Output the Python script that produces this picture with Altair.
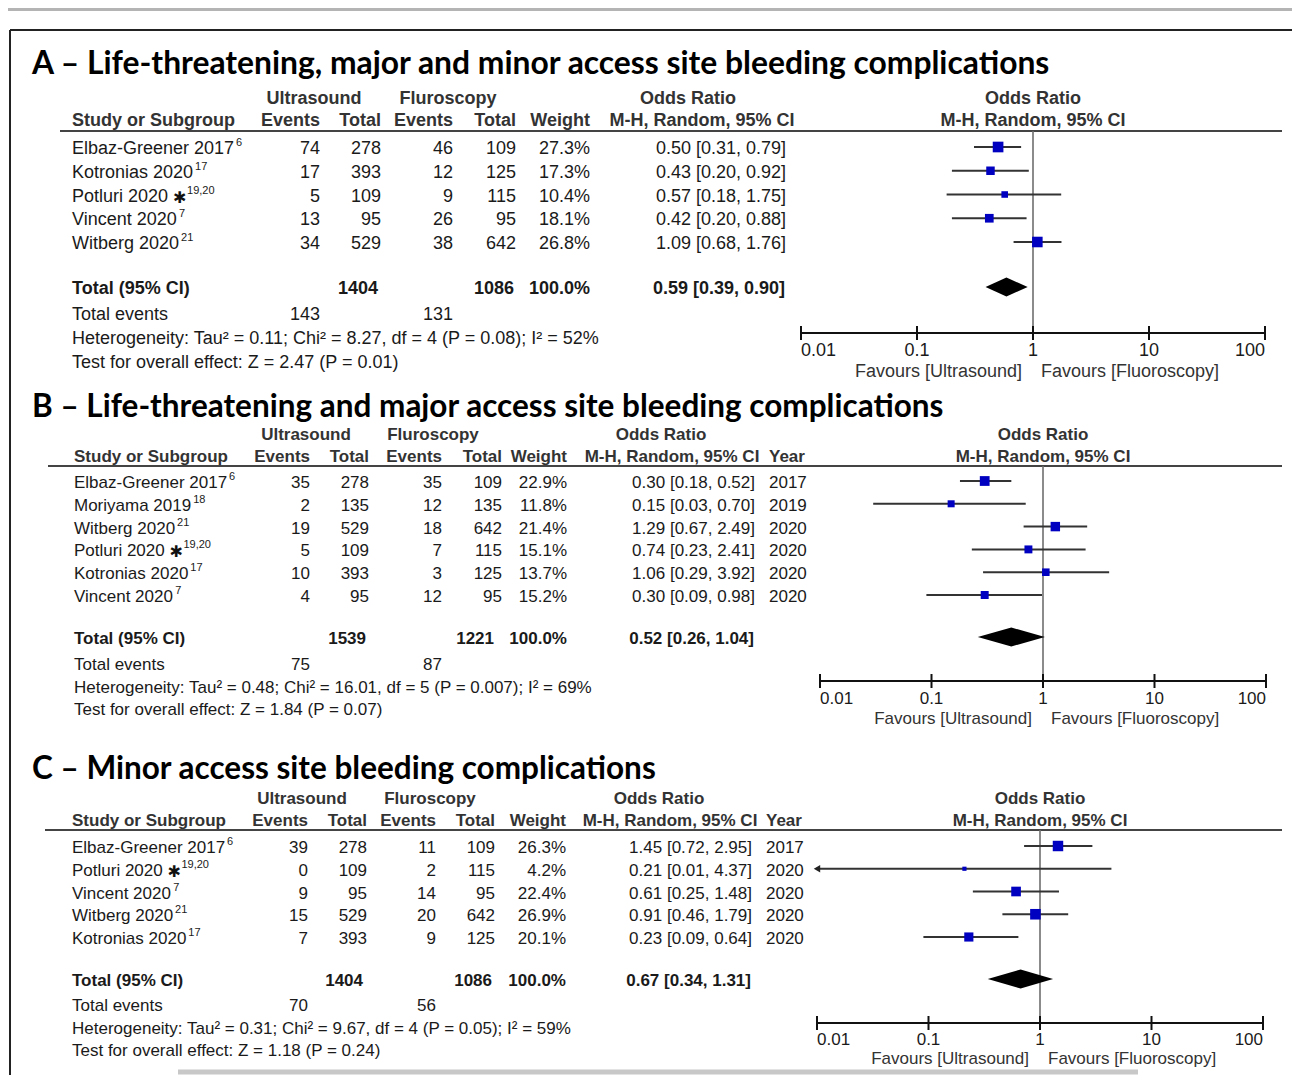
import altair as alt
import pandas as pd

# ---------------- Panel A data ----------------
A_title = "A – Life-threatening, major and minor access site bleeding complications"
A_study = ["Elbaz-Greener 2017", "Kotronias 2020", "Potluri 2020", "Vincent 2020", "Witberg 2020"]
A_ref = ["6", "17", "19,20", "7", "21"]
A_star = [0, 0, 1, 0, 0]
A_us_ev = [74, 17, 5, 13, 34]
A_us_tot = [278, 393, 109, 95, 529]
A_fl_ev = [46, 12, 9, 26, 38]
A_fl_tot = [109, 125, 115, 95, 642]
A_weight = [27.3, 17.3, 10.4, 18.1, 26.8]
A_or = [0.50, 0.43, 0.57, 0.42, 1.09]
A_lo = [0.31, 0.20, 0.18, 0.20, 0.68]
A_hi = [0.79, 0.92, 1.75, 0.88, 1.76]
A_year = []
A_totals = [1404, 1086]
A_pooled = [0.59, 0.39, 0.90]
A_events = [143, 131]
A_het = "Heterogeneity: Tau² = 0.11; Chi² = 8.27, df = 4 (P = 0.08); I² = 52%"
A_test = "Test for overall effect: Z = 2.47 (P = 0.01)"

# ---------------- Panel B data ----------------
B_title = "B – Life-threatening and major access site bleeding complications"
B_study = ["Elbaz-Greener 2017", "Moriyama 2019", "Witberg 2020", "Potluri 2020", "Kotronias 2020", "Vincent 2020"]
B_ref = ["6", "18", "21", "19,20", "17", "7"]
B_star = [0, 0, 0, 1, 0, 0]
B_us_ev = [35, 2, 19, 5, 10, 4]
B_us_tot = [278, 135, 529, 109, 393, 95]
B_fl_ev = [35, 12, 18, 7, 3, 12]
B_fl_tot = [109, 135, 642, 115, 125, 95]
B_weight = [22.9, 11.8, 21.4, 15.1, 13.7, 15.2]
B_or = [0.30, 0.15, 1.29, 0.74, 1.06, 0.30]
B_lo = [0.18, 0.03, 0.67, 0.23, 0.29, 0.09]
B_hi = [0.52, 0.70, 2.49, 2.41, 3.92, 0.98]
B_year = [2017, 2019, 2020, 2020, 2020, 2020]
B_totals = [1539, 1221]
B_pooled = [0.52, 0.26, 1.04]
B_events = [75, 87]
B_het = "Heterogeneity: Tau² = 0.48; Chi² = 16.01, df = 5 (P = 0.007); I² = 69%"
B_test = "Test for overall effect: Z = 1.84 (P = 0.07)"

# ---------------- Panel C data ----------------
C_title = "C – Minor access site bleeding complications"
C_study = ["Elbaz-Greener 2017", "Potluri 2020", "Vincent 2020", "Witberg 2020", "Kotronias 2020"]
C_ref = ["6", "19,20", "7", "21", "17"]
C_star = [0, 1, 0, 0, 0]
C_us_ev = [39, 0, 9, 15, 7]
C_us_tot = [278, 109, 95, 529, 393]
C_fl_ev = [11, 2, 14, 20, 9]
C_fl_tot = [109, 115, 95, 642, 125]
C_weight = [26.3, 4.2, 22.4, 26.9, 20.1]
C_or = [1.45, 0.21, 0.61, 0.91, 0.23]
C_lo = [0.72, 0.01, 0.25, 0.46, 0.09]
C_hi = [2.95, 4.37, 1.48, 1.79, 0.64]
C_year = [2017, 2020, 2020, 2020, 2020]
C_totals = [1404, 1086]
C_pooled = [0.67, 0.34, 1.31]
C_events = [70, 56]
C_het = "Heterogeneity: Tau² = 0.31; Chi² = 9.67, df = 4 (P = 0.05); I² = 59%"
C_test = "Test for overall effect: Z = 1.18 (P = 0.24)"

TICKS = [0.01, 0.1, 1, 10, 100]
TICK_LABELS = ["0.01", "0.1", "1", "10", "100"]

PANELS = {
    "A": dict(title=A_title, study=A_study, ref=A_ref, star=A_star, us_ev=A_us_ev, us_tot=A_us_tot,
              fl_ev=A_fl_ev, fl_tot=A_fl_tot, weight=A_weight, est=A_or, lo=A_lo, hi=A_hi, year=A_year,
              totals=A_totals, pooled=A_pooled, events=A_events, het=A_het, test=A_test),
    "B": dict(title=B_title, study=B_study, ref=B_ref, star=B_star, us_ev=B_us_ev, us_tot=B_us_tot,
              fl_ev=B_fl_ev, fl_tot=B_fl_tot, weight=B_weight, est=B_or, lo=B_lo, hi=B_hi, year=B_year,
              totals=B_totals, pooled=B_pooled, events=B_events, het=B_het, test=B_test),
    "C": dict(title=C_title, study=C_study, ref=C_ref, star=C_star, us_ev=C_us_ev, us_tot=C_us_tot,
              fl_ev=C_fl_ev, fl_tot=C_fl_tot, weight=C_weight, est=C_or, lo=C_lo, hi=C_hi, year=C_year,
              totals=C_totals, pooled=C_pooled, events=C_events, het=C_het, test=C_test),
}

# ---------------- layout (reference pixel positions) ----------------
LAYOUT = {
    "A": dict(fs=18, tfs=31.8, title_y=62, h1_y=97, h2_y=119, rule_y=131, rule_x0=60, row0=147, step=23.75,
              tot_y=287, ev_y=313, het_y=337, test_y=361,
              study=72, us_ev=320, us_tot=381, fl_ev=453, fl_tot=516, wt=590, orr=786, year=None,
              tot_us=378, tot_fl=514,
              us_c=314, fl_c=448, or_c=688, mh_c=702,
              fx0=801, fx1=1265, axis_y=333, lab_y=349, fav_y=370),
    "B": dict(fs=17, tfs=31.5, title_y=406, h1_y=433, h2_y=455, rule_y=466, rule_x0=48, row0=481, step=22.8,
              tot_y=637, ev_y=663, het_y=686, test_y=708,
              study=74, us_ev=310, us_tot=369, fl_ev=442, fl_tot=502, wt=567, orr=755, year=769,
              tot_us=366, tot_fl=494,
              us_c=306, fl_c=433, or_c=661, mh_c=672,
              fx0=820, fx1=1266, axis_y=681, lab_y=697, fav_y=717),
    "C": dict(fs=17, tfs=31.5, title_y=768, h1_y=797, h2_y=819, rule_y=830, rule_x0=45, row0=846, step=22.75,
              tot_y=979, ev_y=1004, het_y=1027, test_y=1049,
              study=72, us_ev=308, us_tot=367, fl_ev=436, fl_tot=495, wt=566, orr=752, year=766,
              tot_us=363, tot_fl=492,
              us_c=302, fl_c=430, or_c=659, mh_c=670,
              fx0=817, fx1=1263, axis_y=1023, lab_y=1038, fav_y=1057),
}

BODY = "Liberation Sans"
TITLEF = "Lato"
INK = "#1a1a1a"
HEAD = "#333333"
TDY = 2  # optical vertical centring of text

ARIAL = {' ': 278, '-': 333, ',': 278}
for ch in "0123456789":
    ARIAL[ch] = 556
ARIAL.update(dict(E=667, G=778, K=667, M=833, P=667, V=667, W=944))
ARIAL.update(dict(a=556, b=556, c=500, e=556, g=556, i=222, l=222, m=833, n=556, o=556,
                  r=333, s=500, t=278, u=556, y=500, z=500))


def tw(s, size):
    return sum(ARIAL.get(c, 556) for c in s) * size / 1000.0


CW, CH = 1284, 1067
XPIX = alt.Scale(domain=[8, 8 + CW], range=[0, CW])
YPIX = alt.Scale(domain=[8, 8 + CH], range=[0, CH])

texts = []


def T(x, y, s, size, align="left", weight="normal", font=BODY, color=INK):
    texts.append(dict(x=x, y=y, text=s, align=align, weight=weight, size=size, font=font, color=color))


layers = []


def prule(rows, color, width):
    df = pd.DataFrame(rows)
    enc = dict(x=alt.X("x:Q", scale=XPIX, axis=None), y=alt.Y("y:Q", scale=YPIX, axis=None))
    if "x2" in df:
        enc["x2"] = "x2:Q"
    if "y2" in df:
        enc["y2"] = "y2:Q"
    layers.append(alt.Chart(df).mark_rule(color=color, strokeWidth=width).encode(**enc))


# frame lines
prule([dict(x=8, x2=8 + CW, y=9)], "#b4b4b4", 4)
prule([dict(x=10, x2=8 + CW, y=30)], "#222222", 2)
prule([dict(x=10, y=30, y2=8 + CH)], "#222222", 2)
prule([dict(x=178, x2=1138, y=1072)], "#c8c8c8", 5)

fmt2 = lambda v: f"{v:.2f}"

for key in ["A", "B", "C"]:
    P = PANELS[key]
    L = LAYOUT[key]
    fs = L["fs"]
    n = len(P["study"])
    ys = [L["row0"] + i * L["step"] for i in range(n)]

    T(32, L["title_y"], P["title"], L["tfs"], weight="bold", font=TITLEF, color="#000000")
    # header
    T(L["us_c"], L["h1_y"], "Ultrasound", fs, align="center", weight="bold", color=HEAD)
    T(L["fl_c"], L["h1_y"], "Fluroscopy", fs, align="center", weight="bold", color=HEAD)
    T(L["or_c"], L["h1_y"], "Odds Ratio", fs, align="center", weight="bold", color=HEAD)
    T(L["study"], L["h2_y"], "Study or Subgroup", fs, weight="bold", color=HEAD)
    for col, lab in [("us_ev", "Events"), ("us_tot", "Total"), ("fl_ev", "Events"),
                     ("fl_tot", "Total"), ("wt", "Weight")]:
        T(L[col], L["h2_y"], lab, fs, align="right", weight="bold", color=HEAD)
    T(L["mh_c"], L["h2_y"], "M-H, Random, 95% CI", fs, align="center", weight="bold", color=HEAD)
    if L["year"] is not None:
        T(L["year"], L["h2_y"], "Year", fs, weight="bold", color=HEAD)
    prule([dict(x=L["rule_x0"], x2=1282, y=L["rule_y"])], "#444444", 2)

    # study rows
    for i in range(n):
        y = ys[i]
        name = P["study"][i]
        T(L["study"], y, name, fs)
        xe = L["study"] + tw(name, fs)
        if P["star"][i]:
            xs = L["study"] + tw(name + " ", fs)
            T(xs, y + 1, "✱", 16, weight="bold", font="DejaVu Sans", color="#111111")
            T(xs + 14, y - 6, P["ref"][i], 11)
        else:
            T(xe + 2, y - 6, P["ref"][i], 11)
        T(L["us_ev"], y, str(P["us_ev"][i]), fs, align="right")
        T(L["us_tot"], y, str(P["us_tot"][i]), fs, align="right")
        T(L["fl_ev"], y, str(P["fl_ev"][i]), fs, align="right")
        T(L["fl_tot"], y, str(P["fl_tot"][i]), fs, align="right")
        T(L["wt"], y, f"{P['weight'][i]:.1f}%", fs, align="right")
        T(L["orr"], y, f"{fmt2(P['est'][i])} [{fmt2(P['lo'][i])}, {fmt2(P['hi'][i])}]", fs, align="right")
        if L["year"] is not None:
            T(L["year"], y, str(P["year"][i]), fs)

    # totals
    T(L["study"], L["tot_y"], "Total (95% CI)", fs, weight="bold")
    T(L["tot_us"], L["tot_y"], str(P["totals"][0]), fs, align="right", weight="bold")
    T(L["tot_fl"], L["tot_y"], str(P["totals"][1]), fs, align="right", weight="bold")
    T(L["wt"], L["tot_y"], "100.0%", fs, align="right", weight="bold")
    pe = P["pooled"]
    T(L["orr"] - 1, L["tot_y"], f"{fmt2(pe[0])} [{fmt2(pe[1])}, {fmt2(pe[2])}]", fs, align="right", weight="bold")
    T(L["study"], L["ev_y"], "Total events", fs)
    T(L["us_ev"], L["ev_y"], str(P["events"][0]), fs, align="right")
    T(L["fl_ev"], L["ev_y"], str(P["events"][1]), fs, align="right")
    T(L["study"], L["het_y"], P["het"], fs)
    T(L["study"], L["test_y"], P["test"], fs)

    # ---------- forest plot ----------
    fx = alt.Scale(type="log", domain=[0.01, 100], range=[L["fx0"] - 8, L["fx1"] - 8], nice=False)

    def XF(f):
        return alt.X(f, type="quantitative", scale=fx, axis=None)

    def YF(f):
        return alt.Y(f, type="quantitative", scale=YPIX, axis=None)

    st = pd.DataFrame(dict(est=P["est"], lo=P["lo"], hi=P["hi"], y=ys, w=P["weight"]))
    # right headers
    hd = pd.DataFrame(dict(x=[1, 1], y=[L["h1_y"], L["h2_y"]], text=["Odds Ratio", "M-H, Random, 95% CI"]))
    layers.append(alt.Chart(hd).mark_text(align="center", baseline="middle", font=BODY, fontSize=fs,
                                          fontWeight="bold", color=HEAD, dy=TDY)
                  .encode(x=XF("x"), y=YF("y"), text="text:N"))
    # line of no effect
    vl = pd.DataFrame(dict(x=[1], y=[L["rule_y"]], y2=[L["axis_y"]]))
    layers.append(alt.Chart(vl).mark_rule(color="#6e6e6e", strokeWidth=1.6)
                  .encode(x=XF("x"), y=YF("y"), y2="y2:Q"))
    # CI lines
    layers.append(alt.Chart(st).mark_rule(color="#333333", strokeWidth=2)
                  .encode(x=XF("lo"), x2="hi:Q", y=YF("y")))
    # arrows where CI reaches the axis limit
    arr = st[st["lo"] <= 0.01]
    if len(arr):
        layers.append(alt.Chart(arr).mark_point(shape="triangle-left", filled=True, size=55,
                                                color="#222222", opacity=1)
                      .encode(x=XF("lo"), y=YF("y")))
    # squares
    layers.append(alt.Chart(st).mark_square(color="#0000c0", opacity=1)
                  .encode(x=XF("est"), y=YF("y"),
                          size=alt.Size("w:Q", scale=alt.Scale(domain=[0, 30], range=[0, 125]), legend=None)))
    # diamond
    c = L["tot_y"]
    dm = pd.DataFrame(dict(x=[pe[1], pe[0], pe[2]], y=[c, c - 9.5, c], y2=[c, c + 9.5, c]))
    layers.append(alt.Chart(dm).mark_area(color="#000000", opacity=1)
                  .encode(x=XF("x"), y=YF("y"), y2="y2:Q"))
    # axis
    ax = pd.DataFrame(dict(x=[TICKS[0]], x2=[TICKS[-1]], y=[L["axis_y"]]))
    layers.append(alt.Chart(ax).mark_rule(color="#111111", strokeWidth=2)
                  .encode(x=XF("x"), x2="x2:Q", y=YF("y")))
    tk = pd.DataFrame(dict(x=TICKS, y=[L["axis_y"] - 7] * 5, y2=[L["axis_y"] + 7] * 5))
    layers.append(alt.Chart(tk).mark_rule(color="#111111", strokeWidth=2)
                  .encode(x=XF("x"), y=YF("y"), y2="y2:Q"))
    lab = pd.DataFrame(dict(x=TICKS, y=[L["lab_y"]] * 5, text=TICK_LABELS,
                            pos=["left", "center", "center", "center", "right"]))
    for al in ["left", "center", "right"]:
        sub = lab[lab["pos"] == al]
        layers.append(alt.Chart(sub).mark_text(align=al, baseline="middle", font=BODY, fontSize=fs,
                                               color=INK, dy=TDY)
                      .encode(x=XF("x"), y=YF("y"), text="text:N"))
    fav = pd.DataFrame(dict(x=[1, 1], y=[L["fav_y"]] * 2,
                            text=["Favours [Ultrasound]", "Favours [Fluoroscopy]"]))
    layers.append(alt.Chart(fav.iloc[[0]]).mark_text(align="right", baseline="middle", font=BODY,
                                                     fontSize=fs, color="#333333", dx=-11, dy=TDY)
                  .encode(x=XF("x"), y=YF("y"), text="text:N"))
    layers.append(alt.Chart(fav.iloc[[1]]).mark_text(align="left", baseline="middle", font=BODY,
                                                     fontSize=fs, color="#333333", dx=8, dy=TDY)
                  .encode(x=XF("x"), y=YF("y"), text="text:N"))

# text layers grouped by alignment / weight / font
tdf = pd.DataFrame(texts)
for (al, wt, fnt), sub in tdf.groupby(["align", "weight", "font"]):
    layers.append(alt.Chart(sub.reset_index(drop=True)).mark_text(align=al, baseline="middle", font=fnt,
                                                                  fontWeight=wt, dy=TDY)
                  .encode(x=alt.X("x:Q", scale=XPIX, axis=None),
                          y=alt.Y("y:Q", scale=YPIX, axis=None),
                          text="text:N",
                          size=alt.Size("size:Q", scale=None, legend=None),
                          color=alt.Color("color:N", scale=None, legend=None)))

chart = (alt.layer(*layers)
         .resolve_scale(x="independent", size="independent", color="independent")
         .properties(width=CW, height=CH, padding=0, autosize=alt.AutoSizeParams(type="none"),
                     background="white")
         .configure_view(stroke=None))

chart.save("out.html", embed_options={"renderer": "svg", "actions": False})
